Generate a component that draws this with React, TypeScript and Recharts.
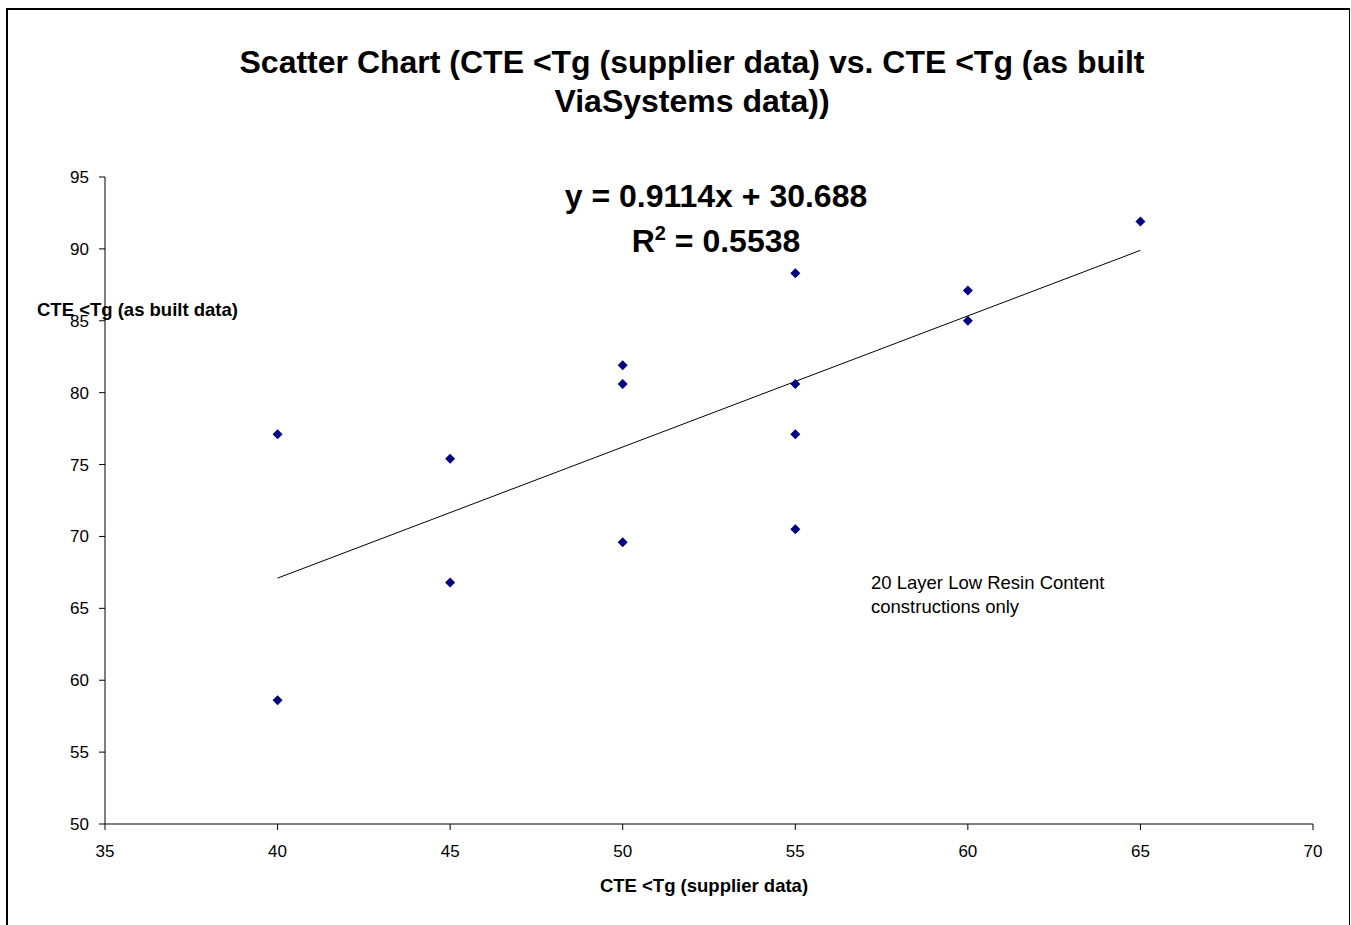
import React from "react";
import { ScatterChart, Scatter, XAxis, YAxis } from "recharts";

// supplier data (x) vs as built data (y)
const supplierCte = [40, 40, 45, 45, 50, 50, 50, 55, 55, 55, 55, 60, 60, 65];
const builtCte = [77.1, 58.6, 75.4, 66.8, 81.9, 80.6, 69.6, 88.3, 80.6, 77.1, 70.5, 87.1, 85.0, 91.9];

// linear trendline ends
const trendX = [40, 65];
const trendY = [67.1, 89.9];

const xTicks = [35, 40, 45, 50, 55, 60, 65, 70];
const yTicks = [50, 55, 60, 65, 70, 75, 80, 85, 90, 95];

const points = supplierCte.map((x, i) => ({ x, y: builtCte[i] }));
const trend = trendX.map((x, i) => ({ x, y: trendY[i] }));

const font = "'Liberation Sans', Arial, sans-serif";

const Diamond = (props: any) => {
  const { cx, cy } = props;
  const r = 5;
  return (
    <polygon
      points={`${cx},${cy - r} ${cx + r},${cy} ${cx},${cy + r} ${cx - r},${cy}`}
      fill="#000080"
    />
  );
};

export default function App() {
  return (
    <div
      style={{
        position: "absolute",
        left: 0,
        top: 0,
        width: 1351,
        height: 925,
        overflow: "hidden",
        background: "#fff",
        fontFamily: font,
      }}
    >
      {/* outer frame */}
      <div
        style={{
          position: "absolute",
          left: 6,
          top: 8,
          width: 1341,
          height: 960,
          borderLeft: "2px solid #000",
          borderTop: "2px solid #000",
          borderRight: "1.5px solid #000",
        }}
      />

      <ScatterChart
        width={1351}
        height={925}
        margin={{ top: 177, right: 38, bottom: 41, left: 45 }}
        style={{ position: "absolute", left: 0, top: 0 }}
      >
        <XAxis
          type="number"
          dataKey="x"
          domain={[35, 70]}
          ticks={xTicks}
          height={60}
          stroke="#000"
          tickSize={6}
          tickMargin={15}
          tick={{ fill: "#000", fontSize: 17, fontFamily: font }}
          interval={0}
        />
        <YAxis
          type="number"
          dataKey="y"
          domain={[50, 95]}
          ticks={yTicks}
          width={60}
          stroke="#000"
          tickSize={6}
          tickMargin={10}
          tick={{ fill: "#000", fontSize: 17, fontFamily: font }}
          interval={0}
        />
        <Scatter
          data={trend}
          line={{ stroke: "#000", strokeWidth: 1 }}
          shape={() => <g />}
          isAnimationActive={false}
        />
        <Scatter data={points} shape={Diamond} isAnimationActive={false} />
      </ScatterChart>

      <div
        style={{
          position: "absolute",
          left: 142,
          width: 1100,
          top: 43,
          textAlign: "center",
          fontWeight: "bold",
          fontSize: 32,
          lineHeight: "39px",
        }}
      >
        Scatter Chart (CTE &lt;Tg (supplier data) vs. CTE &lt;Tg (as built
        <br />
        ViaSystems data))
      </div>

      <div
        style={{
          position: "absolute",
          left: 516,
          width: 400,
          top: 174,
          textAlign: "center",
          fontWeight: "bold",
          fontSize: 32,
          lineHeight: "45px",
        }}
      >
        y = 0.9114x + 30.688
        <br />
        R<sup style={{ fontSize: 20, lineHeight: 0 }}>2</sup> = 0.5538
      </div>

      <div
        style={{
          position: "absolute",
          left: 37,
          top: 299,
          fontWeight: "bold",
          fontSize: 18.5,
          lineHeight: "21px",
          whiteSpace: "nowrap",
        }}
      >
        CTE &lt;Tg (as built data)
      </div>

      <div
        style={{
          position: "absolute",
          left: 504,
          width: 400,
          top: 875,
          textAlign: "center",
          fontWeight: "bold",
          fontSize: 18.5,
          lineHeight: "21px",
        }}
      >
        CTE &lt;Tg (supplier data)
      </div>

      <div
        style={{
          position: "absolute",
          left: 871,
          top: 571,
          fontSize: 18.5,
          lineHeight: "24px",
          whiteSpace: "nowrap",
        }}
      >
        20 Layer Low Resin Content
        <br />
        constructions only
      </div>
    </div>
  );
}
